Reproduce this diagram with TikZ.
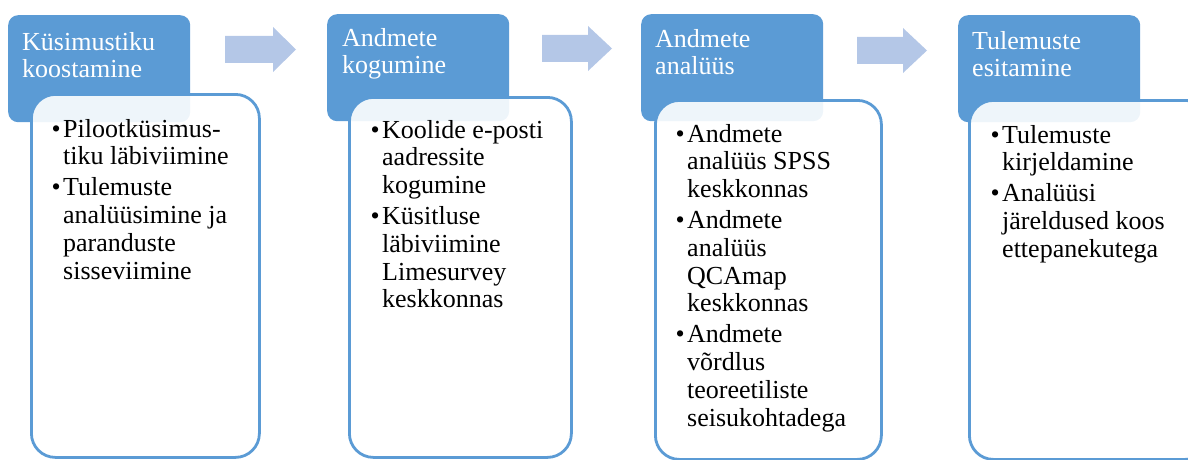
\documentclass[tikz,border=0pt]{standalone}
\usepackage{fontspec}
\setmainfont{Liberation Serif}
\definecolor{hdr}{HTML}{5B9BD5}
\definecolor{arw}{HTML}{B4C7E7}
\begin{document}
\begin{tikzpicture}[x=1pt,y=-1pt,
  hdrbox/.style={draw=none, fill=hdr, rounded corners=10pt, inner sep=0pt, anchor=north west, minimum width=182pt, minimum height=107pt},
  bodybox/.style={draw=hdr, line width=2.8pt, fill=white, fill opacity=0.9, rounded corners=24pt, inner sep=0pt, anchor=north west, minimum height=362pt},
  hdrtext/.style={anchor=base west, inner sep=0pt, text=white, font=\fontsize{26}{26.5}\selectfont},
  bodytext/.style={anchor=base west, inner sep=0pt, text=black, font=\fontsize{26}{27.7}\selectfont},
  blockarrow/.style={fill=arw, draw=none}
]
\useasboundingbox (0,0) rectangle (1188,460);
\clip (0,0) rectangle (1188,460);

% block arrows
\fill[blockarrow] (225,36) -- (273,36) -- (273,27) -- (296,49.5) -- (273,72) -- (273,63) -- (225,63) -- cycle;
\fill[blockarrow] (542,35) -- (588,35) -- (588,26) -- (612,48.5) -- (588,71) -- (588,62) -- (542,62) -- cycle;
\fill[blockarrow] (857,37) -- (903,37) -- (903,28) -- (927,50.5) -- (903,73) -- (903,64) -- (857,64) -- cycle;

% headers
\node[hdrbox] (h1) at (8,15) {};
\node[hdrbox] (h2) at (327,14) {};
\node[hdrbox] (h3) at (641,14) {};
\node[hdrbox] (h4) at (958,15) {};

% bodies
\node[bodybox, minimum width=228pt, minimum height=363pt] (b1) at (30,93) {};
\node[bodybox, minimum width=222pt, minimum height=360pt] (b2) at (348,96) {};
\node[bodybox, minimum width=226pt, minimum height=359pt] (b3) at (654,99) {};
\node[bodybox, minimum width=240pt, minimum height=359pt] (b4) at (968,99) {};

% header texts
\node[hdrtext] (ht1) at (22,51) {\begin{tabular}[t]{@{}l@{}}Küsimustiku\\koostamine\end{tabular}};
\node[hdrtext] (ht2) at (342,47) {\begin{tabular}[t]{@{}l@{}}Andmete\\kogumine\end{tabular}};
\node[hdrtext] (ht3) at (655,48) {\begin{tabular}[t]{@{}l@{}}Andmete\\analüüs\end{tabular}};
\node[hdrtext] (ht4) at (972,50) {\begin{tabular}[t]{@{}l@{}}Tulemuste\\esitamine\end{tabular}};

% body texts
\node[bodytext] (bt1) at (51.5,137) {\begin{tabular}[t]{@{}p{11.5pt}@{}l@{}}
\textbullet & Pilootküsimus-\\ & tiku läbiviimine\\[3.5pt]
\textbullet & Tulemuste\\ & analüüsimine ja\\ & paranduste\\ & sisseviimine
\end{tabular}};
\node[bodytext] (bt2) at (370.5,138) {\begin{tabular}[t]{@{}p{11.5pt}@{}l@{}}
\textbullet & Koolide e-posti\\ & aadressite\\ & kogumine\\[3.5pt]
\textbullet & Küsitluse\\ & läbiviimine\\ & Limesurvey\\ & keskkonnas
\end{tabular}};
\node[bodytext] (bt3) at (675.5,142) {\begin{tabular}[t]{@{}p{11.5pt}@{}l@{}}
\textbullet & Andmete\\ & analüüs SPSS\\ & keskkonnas\\[3.5pt]
\textbullet & Andmete\\ & analüüs\\ & QCAmap\\ & keskkonnas\\[3.5pt]
\textbullet & Andmete\\ & võrdlus\\ & teoreetiliste\\ & seisukohtadega
\end{tabular}};
\node[bodytext] (bt4) at (990.5,143) {\begin{tabular}[t]{@{}p{11.5pt}@{}l@{}}
\textbullet & Tulemuste\\ & kirjeldamine\\[3.5pt]
\textbullet & Analüüsi\\ & järeldused koos\\ & ettepanekutega
\end{tabular}};
\end{tikzpicture}
\end{document}
